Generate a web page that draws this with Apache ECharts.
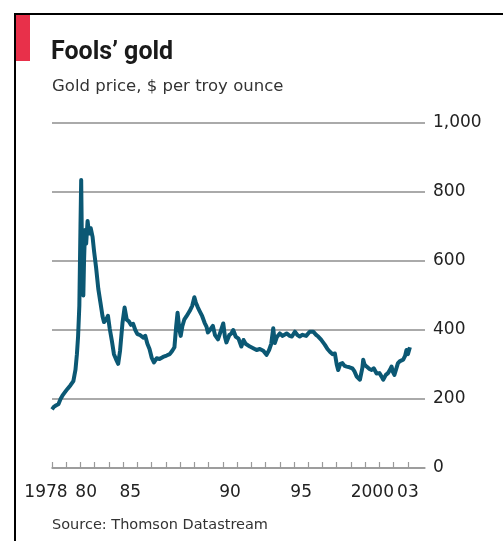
<!DOCTYPE html>
<html>
<head>
<meta charset="utf-8">
<script src="https://cdn.jsdelivr.net/npm/echarts@6/dist/echarts.min.js"></script>
<style>html,body{margin:0;padding:0;background:#fff;}#c{width:503px;height:541px;}</style>
</head>
<body>
<div id="c"></div>
<script>
// ---- data ----
var years = [
1978.00,1978.15,1978.30,1978.45,1978.60,1978.77,1978.95,1979.10,1979.30,1979.50,
1979.65,1979.75,1979.83,1979.92,1980.00,1980.05,1980.10,1980.15,1980.20,1980.25,
1980.32,1980.40,1980.50,1980.60,1980.72,1980.85,1980.95,1981.10,1981.25,1981.40,
1981.55,1981.65,1981.80,1981.93,1982.05,1982.20,1982.35,1982.50,1982.65,1982.78,
1982.95,1983.10,1983.25,1983.40,1983.55,1983.70,1983.85,1984.00,1984.20,1984.40,
1984.55,1984.70,1984.85,1985.00,1985.16,1985.35,1985.55,1985.80,1986.05,1986.27,
1986.45,1986.60,1986.72,1986.82,1986.95,1987.04,1987.15,1987.30,1987.45,1987.67,
1987.85,1988.00,1988.10,1988.25,1988.37,1988.55,1988.72,1988.85,1988.95,1989.10,
1989.30,1989.45,1989.66,1989.80,1990.03,1990.15,1990.25,1990.45,1990.60,1990.73,
1990.90,1991.10,1991.30,1991.45,1991.60,1991.90,1992.10,1992.37,1992.60,1992.84,
1993.07,1993.25,1993.40,1993.54,1993.65,1993.80,1994.00,1994.20,1994.48,1994.70,
1994.85,1995.06,1995.25,1995.40,1995.60,1995.85,1996.10,1996.35,1996.55,1996.70,
1996.90,1997.17,1997.35,1997.52,1997.70,1997.87,1998.00,1998.10,1998.25,1998.40,
1998.55,1998.70,1998.90,1999.10,1999.25,1999.40,1999.63,1999.80,1999.86,1999.95,
2000.10,2000.30,2000.45,2000.60,2000.80,2001.00,2001.15,2001.27,2001.45,2001.60,
2001.75,2001.85,2001.95,2002.05,2002.20,2002.30,2002.45,2002.67,2002.80,2002.90,
2003.00,2003.14
];
var prices = [
170,178,182,185,200,212,222,230,240,252,
285,330,380,470,700,835,650,560,500,600,
690,650,716,680,695,670,630,580,520,480,
440,423,430,441,405,370,330,315,302,340,
420,465,430,425,415,418,400,388,385,378,
383,360,345,320,306,318,316,322,326,330,
340,350,410,450,400,383,410,431,440,455,
470,495,480,465,455,440,421,410,393,400,
412,385,373,390,419,380,364,385,390,400,
381,375,352,371,360,352,348,342,345,340,
328,342,360,405,362,380,390,383,390,383,
381,395,385,381,386,383,395,395,386,381,
372,357,345,337,330,332,300,284,302,304,
296,294,292,289,280,265,256,290,314,300,
294,287,284,289,274,275,265,256,270,275,
285,294,278,270,290,304,310,314,325,342,
330,350
];
var yearTicks = [1978,1979,1980,1981,1982,1983,1984,1985,1986,1987,1988,1989,1990,
  1991,1992,1993,1994,1995,1996,1997,1998,1999,2000,2001,2002,2003];
var xLabelValues = [1978, 1980.4, 1983.5, 1990.5, 1995.5, 2000.5, 2003.0];
var xLabelTexts = ['1978', '80', '85', '90', '95', '2000', '03'];

var titleText = 'Fools\u2019 gold';
var subtitleText = 'Gold price, $ per troy ounce';
var sourceText = 'Source: Thomson Datastream';

// ---- chart ----
var TFONT = 'Roboto, "DejaVu Sans", sans-serif';
var FONT = '"DejaVu Sans", sans-serif';
var seriesData = years.map(function (y, i) { return [y, prices[i]]; });

var chart = echarts.init(document.getElementById('c'), null, {renderer: 'canvas'});
chart.setOption({
  animation: false,
  backgroundColor: '#fff',
  textStyle: {fontFamily: FONT},
  title: [
    {text: titleText, left: 51, top: 40, padding: 0,
     textStyle: {fontFamily: TFONT, fontSize: 25, fontWeight: 'bold', color: '#1a1a1a'}},
    {text: subtitleText, left: 52, top: 78, padding: 0,
     textStyle: {fontFamily: FONT, fontSize: 16.5, fontWeight: 'normal', color: '#333'}},
    {text: sourceText, left: 52, top: 518, padding: 0,
     textStyle: {fontFamily: FONT, fontSize: 14.5, fontWeight: 'normal', color: '#333'}}
  ],
  graphic: [
    {type: 'rect', shape: {x: 15, y: 14, width: 600, height: 600},
     style: {fill: null, stroke: '#000', lineWidth: 2}, z: 10},
    {type: 'rect', shape: {x: 16, y: 15, width: 14, height: 46},
     style: {fill: '#e8304a'}, z: 11}
  ],
  grid: {left: 52, right: 78, top: 123, bottom: 73, containLabel: false},
  xAxis: {
    type: 'value', min: 1978, max: 2004.2,
    axisLine: {show: true, lineStyle: {color: '#999', width: 1.5}},
    axisTick: {show: true, inside: true, length: 6, customValues: yearTicks,
               lineStyle: {color: '#999', width: 1.2}},
    axisLabel: {show: true, customValues: xLabelValues, margin: 16,
                fontSize: 17, color: '#222', fontFamily: FONT,
                formatter: function (v) {
                  for (var i = 0; i < xLabelValues.length; i++) {
                    if (Math.abs(xLabelValues[i] - v) < 1e-6) {
                      return i === 0 ? '{f|' + xLabelTexts[i] + '}' : xLabelTexts[i];
                    }
                  }
                  return '';
                },
                rich: {f: {fontSize: 17, color: '#222', fontFamily: FONT, padding: [0, 12, 0, 0]}}},
    splitLine: {show: false}
  },
  yAxis: {
    type: 'value', position: 'right', min: 0, max: 1000, interval: 200,
    axisLine: {show: false}, axisTick: {show: false},
    axisLabel: {margin: 8, fontSize: 17, color: '#222', fontFamily: FONT,
                formatter: function (v) { return v === 0 ? '0' : v.toLocaleString('en-US'); }},
    splitLine: {show: true, lineStyle: {color: '#aaa', width: 2}}
  },
  series: [{
    type: 'line', data: seriesData, showSymbol: false,
    lineStyle: {color: '#0b5874', width: 4, join: 'round'}, z: 5
  }]
});
</script>
</body>
</html>
